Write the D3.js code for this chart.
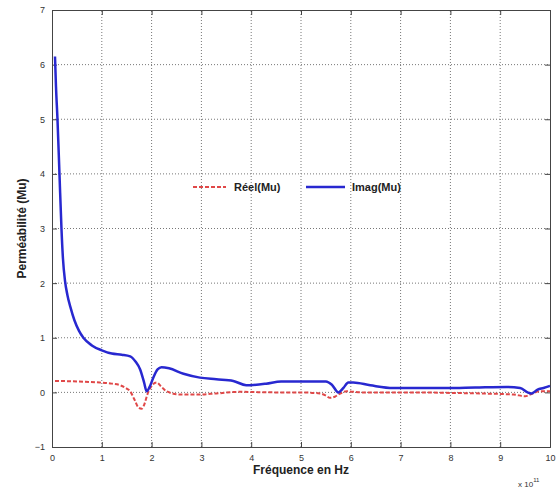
<!DOCTYPE html>
<html><head><meta charset="utf-8">
<script src="https://cdn.jsdelivr.net/npm/d3@7"></script>
<style>body{margin:0;background:#fff}svg{display:block}</style>
</head><body>
<script>
const xTicks = [0,1,2,3,4,5,6,7,8,9,10];
const yTicks = [-1,0,1,2,3,4,5,6,7];
const seriesNames = ["Réel(Mu)", "Imag(Mu)"];
const reelMu = [[0.06,0.21],[0.5,0.2],[0.96,0.18],[1.2,0.16],[1.37,0.13],[1.5,0.07],[1.57,0.02],[1.65,-0.12],[1.73,-0.27],[1.8,-0.3],[1.84,-0.25],[1.93,0.0],[2.02,0.14],[2.1,0.18],[2.2,0.1],[2.3,0.02],[2.57,-0.04],[2.9,-0.04],[3.3,-0.02],[3.77,0.01],[4.44,0.0],[5.0,0.0],[5.38,-0.02],[5.5,-0.06],[5.58,-0.1],[5.68,-0.08],[5.75,-0.04],[5.92,0.02],[6.2,0.0],[7.25,0.0],[8.0,-0.01],[8.6,-0.02],[9.27,-0.04],[9.5,-0.07],[9.6,-0.04],[9.8,0.02],[10,0.02]];
const imagMu = [[0.06,6.15],[0.08,5.6],[0.11,5.0],[0.15,4.0],[0.19,3.0],[0.22,2.45],[0.26,2.05],[0.31,1.78],[0.37,1.56],[0.45,1.32],[0.54,1.13],[0.63,1.0],[0.8,0.86],[1.0,0.77],[1.2,0.71],[1.4,0.69],[1.57,0.66],[1.68,0.56],[1.77,0.42],[1.85,0.18],[1.9,0.02],[1.96,0.1],[2.03,0.26],[2.12,0.42],[2.2,0.46],[2.35,0.44],[2.64,0.34],[2.97,0.27],[3.3,0.24],[3.64,0.21],[3.9,0.13],[4.3,0.16],[4.6,0.2],[5.0,0.2],[5.5,0.2],[5.62,0.14],[5.75,0.0],[5.85,0.08],[5.95,0.18],[6.05,0.18],[6.39,0.13],[6.85,0.08],[7.5,0.08],[7.92,0.08],[8.5,0.09],[9.13,0.1],[9.4,0.08],[9.55,0.0],[9.63,-0.02],[9.75,0.05],[9.87,0.08],[10,0.12]];

const W=558,H=491;
const m={l:52,t:10,r:8,b:44};
const svg=d3.select("body").append("svg").attr("width",W).attr("height",H);
const x=d3.scaleLinear().domain([0,10]).range([m.l,W-m.r]);
const y=d3.scaleLinear().domain([-1,7]).range([H-m.b,m.t]);
const font="Arial, 'Liberation Sans', sans-serif";

// grid
const g=svg.append("g");
g.selectAll(".gx").data(xTicks.slice(1,-1)).join("line")
  .attr("x1",d=>x(d)).attr("x2",d=>x(d)).attr("y1",y(-1)).attr("y2",y(7))
  .attr("stroke","#777").attr("stroke-width",1).attr("stroke-dasharray","1,2");
g.selectAll(".gy").data(yTicks.slice(1,-1)).join("line")
  .attr("y1",d=>y(d)).attr("y2",d=>y(d)).attr("x1",x(0)).attr("x2",x(10))
  .attr("stroke","#777").attr("stroke-width",1).attr("stroke-dasharray","1,2");

// axes
svg.append("g").attr("transform",`translate(0,${y(-1)})`)
  .call(d3.axisBottom(x).tickValues(xTicks).tickSize(-5).tickPadding(8).tickFormat(d3.format("d")));
svg.append("g").attr("transform",`translate(${x(0)},0)`)
  .call(d3.axisLeft(y).tickValues(yTicks).tickSize(-5).tickPadding(7).tickFormat(d3.format("d")));
svg.append("g").attr("transform",`translate(0,${y(7)})`)
  .call(d3.axisTop(x).tickValues(xTicks).tickSize(-5).tickFormat(""));
svg.append("g").attr("transform",`translate(${x(10)},0)`)
  .call(d3.axisRight(y).tickValues(yTicks).tickSize(-5).tickFormat(""));
svg.selectAll(".domain").attr("stroke","#444");
svg.selectAll(".tick line").attr("stroke","#444");
svg.selectAll(".tick text").attr("font-family",font).attr("font-size",9).attr("fill","#333");

// lines
const line=d3.line().x(d=>x(d[0])).y(d=>y(d[1])).curve(d3.curveMonotoneX);
svg.append("path").datum(reelMu).attr("d",line).attr("fill","none")
  .attr("stroke","#e04848").attr("stroke-width",2).attr("stroke-dasharray","4,2");
svg.append("path").datum(imagMu).attr("d",line).attr("fill","none")
  .attr("stroke","#2828d0").attr("stroke-width",2.5);

// legend
const lg=svg.append("g").attr("font-family",font).attr("font-size",11).attr("font-weight","bold").attr("fill","#222");
lg.append("line").attr("x1",193).attr("x2",226).attr("y1",187).attr("y2",187)
  .attr("stroke","#e04848").attr("stroke-width",2).attr("stroke-dasharray","4,2");
lg.append("text").attr("x",234).attr("y",191).text(seriesNames[0]);
lg.append("line").attr("x1",306).attr("x2",345).attr("y1",187).attr("y2",187)
  .attr("stroke","#2828d0").attr("stroke-width",2.5);
lg.append("text").attr("x",352).attr("y",191).text(seriesNames[1]);

// labels
svg.append("text").attr("x",(x(0)+x(10))/2).attr("y",474).attr("text-anchor","middle")
  .attr("font-family",font).attr("font-size",12).attr("font-weight","bold").attr("fill","#222")
  .text("Fréquence en Hz");
svg.append("text").attr("transform",`translate(26,${(y(-1)+y(7))/2}) rotate(-90)`).attr("text-anchor","middle")
  .attr("font-family",font).attr("font-size",12).attr("font-weight","bold").attr("fill","#222")
  .text("Perméabilité (Mu)");
const ex=svg.append("text").attr("x",518).attr("y",487).attr("font-family",font).attr("font-size",8).attr("fill","#333");
ex.append("tspan").text("x 10");
ex.append("tspan").attr("dy",-5).attr("font-size",6).text("11");
</script>
</body></html>
